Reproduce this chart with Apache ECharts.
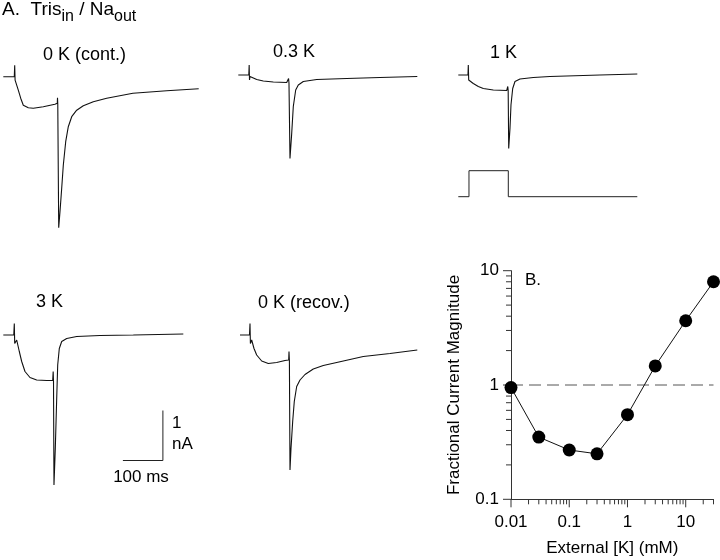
<!DOCTYPE html>
<html>
<head>
<meta charset="utf-8">
<script src="https://cdn.jsdelivr.net/npm/echarts@6/dist/echarts.min.js"></script>
<style>
  html, body { margin: 0; padding: 0; background: #fff; }
  #chart { width: 720px; height: 560px; }
</style>
</head>
<body>
<div id="chart"></div>
<script>
// current traces, [time (ms), current (nA)] relative to holding level
const trace0Kcont = [[0,0],[27.5,0],[28.5,0.23],[29.5,-0.07],[31,-0.07],[37.5,-0.27],[43.5,-0.43],[50,-0.57],[62.5,-0.62],[75,-0.63],[100,-0.6],[129,-0.55],[135,-0.53],[135.5,-0.42],[136.2,-0.55],[138.5,-3.02],[141.7,-2.7],[146,-2.23],[150,-1.77],[156,-1.3],[162.5,-1.0],[171,-0.8],[183.5,-0.67],[200,-0.58],[225,-0.5],[258.5,-0.43],[324,-0.33],[408.5,-0.28],[488.5,-0.24]];
const trace03K = [[0,0],[26.2,0],[27.2,0.2],[28,-0.1],[29.2,-0.03],[33.5,-0.05],[46,-0.09],[62.5,-0.12],[87.5,-0.14],[121,-0.15],[125,-0.16],[125.7,-0.07],[126.7,-0.16],[129.2,-1.67],[133.5,-1.17],[137.5,-0.63],[143.5,-0.3],[150,-0.2],[162.5,-0.13],[196,-0.09],[271,-0.07],[354,-0.05],[447.5,-0.03]];
const trace1K = [[0,0],[24.2,0],[25,0.2],[26,-0.1],[29.2,-0.07],[37.5,-0.17],[50,-0.23],[62.5,-0.27],[87.5,-0.3],[121,-0.31],[123,-0.31],[123.7,-0.23],[124.7,-0.31],[126,-1.47],[129.2,-1.07],[131.7,-0.6],[136,-0.27],[141.7,-0.13],[154.2,-0.08],[187.5,-0.05],[229,-0.03],[354,0],[447.5,0.02]];
const trace3K = [[0,0],[26.2,0],[27.5,0.23],[28.5,-0.17],[33.5,-0.1],[40,-0.33],[46,-0.53],[54.2,-0.73],[66.7,-0.85],[83.5,-0.9],[108.5,-0.91],[123.5,-0.91],[124.7,-0.73],[125.5,-0.92],[126.7,-3.0],[130,-2.27],[133.5,-1.27],[136,-0.6],[140,-0.27],[146,-0.13],[158.5,-0.07],[183.5,-0.03],[241.7,-0.01],[325,0],[450,0.02]];
const trace0Krecov = [[0,0],[23.7,0],[25,0.23],[26,-0.17],[29.2,-0.1],[35,-0.27],[41.7,-0.4],[54.2,-0.52],[70.7,-0.57],[91.7,-0.55],[112.5,-0.51],[121.7,-0.5],[122.5,-0.33],[123.5,-0.51],[125,-2.7],[127.5,-2.27],[131.7,-1.73],[135.7,-1.33],[141.7,-1.03],[150,-0.9],[162.5,-0.79],[183.2,-0.68],[208.2,-0.61],[241.7,-0.55],[308.2,-0.43],[375,-0.37],[443.2,-0.3]];
// voltage protocol (relative level) under the 1 K trace
const pulseT = [0, 26.7, 26.7, 125, 125, 447.5];
const pulseV = [0, 0, 1, 1, 0, 0];
// scale bar: 100 ms x 1 nA
const scaleBarT = [299, 399, 399];
const scaleBarI = [-2.51, -2.51, -1.51];

// panel B
const extK = [0.01, 0.03, 0.1, 0.3, 1, 3, 10, 30];
const fracCurrent = [0.95, 0.35, 0.27, 0.25, 0.55, 1.47, 3.65, 8.0];
const errK = [0.1];
const errLow = [0.245];
const errHigh = [0.295];
const refK = [0.01, 30];
const refFrac = [1, 1];
const xMajor = [0.01, 0.1, 1, 10];
const xMinor = [0.02,0.03,0.04,0.05,0.06,0.07,0.08,0.09,0.2,0.3,0.4,0.5,0.6,0.7,0.8,0.9,2,3,4,5,6,7,8,9,20,30];
const yMajor = [0.1, 1, 10];
const yMinor = [0.2,0.3,0.4,0.5,0.6,0.7,0.8,0.9,2,3,4,5,6,7,8,9];

const FONT = "'Liberation Sans', Arial, sans-serif";
const MS_PER_PX = 2.5;
const PX_PER_NA = 50;
const Y_TOP = 0.4, Y_BOT = -3.2;

const chart = echarts.init(document.getElementById('chart'));

// [left px, baseline px]
const panels = [
  { data: trace0Kcont, left: 3.3, base: 76.7 },
  { data: trace03K, left: 238.3, base: 75 },
  { data: trace1K, left: 458.3, base: 75 },
  { data: trace3K, left: 3.3, base: 335 },
  { data: trace0Krecov, left: 240, base: 335 },
];

const grids = [], xAxes = [], yAxes = [], series = [];
panels.forEach((p, i) => {
  grids.push({ left: p.left, top: p.base - Y_TOP * PX_PER_NA, width: 200,
    height: (Y_TOP - Y_BOT) * PX_PER_NA, outerBoundsMode: 'none' });
  xAxes.push({ type: 'value', gridIndex: i, min: 0, max: 200 * MS_PER_PX, show: false });
  yAxes.push({ type: 'value', gridIndex: i, min: Y_BOT, max: Y_TOP, show: false });
  series.push({ type: 'line', xAxisIndex: i, yAxisIndex: i, data: p.data,
    showSymbol: false, lineStyle: { color: '#111', width: 1.1 }, clip: false });
});

// pulse protocol grid
grids.push({ left: 458.3, top: 170.7, width: 200, height: 26, outerBoundsMode: 'none' });
xAxes.push({ type: 'value', gridIndex: 5, min: 0, max: 200 * MS_PER_PX, show: false });
yAxes.push({ type: 'value', gridIndex: 5, min: 0, max: 1, show: false });
series.push({ type: 'line', xAxisIndex: 5, yAxisIndex: 5,
  data: pulseT.map((t, i) => [t, pulseV[i]]), showSymbol: false,
  lineStyle: { color: '#222', width: 1 }, clip: false });

// scale bar in the 3 K panel
series.push({ type: 'line', xAxisIndex: 3, yAxisIndex: 3,
  data: scaleBarT.map((t, i) => [t, scaleBarI[i]]), showSymbol: false,
  lineStyle: { color: '#222', width: 1 }, clip: false });

// panel B grid (index 6)
grids.push({ left: 511, top: 270.7, width: 202.5, height: 228.6, outerBoundsMode: 'none' });
xAxes.push({
  type: 'log', gridIndex: 6, logBase: 10, min: 0.01, max: 30,
  name: 'External [K] (mM)', nameLocation: 'middle', nameGap: 41,
  nameTextStyle: { fontSize: 17, color: '#000', fontFamily: FONT },
  axisLine: { show: true, lineStyle: { color: '#333', width: 1 } },
  axisTick: { show: false }, splitLine: { show: false }, minorTick: { show: false },
  axisLabel: { color: '#000', fontSize: 17, fontFamily: FONT, margin: 15, showMaxLabel: false,
    formatter: v => String(+v.toPrecision(2)) },
});
yAxes.push({
  type: 'log', gridIndex: 6, logBase: 10, min: 0.1, max: 10,
  name: 'Fractional Current Magnitude', nameLocation: 'middle', nameGap: 48,
  nameTextStyle: { fontSize: 17, color: '#000', fontFamily: FONT },
  axisLine: { show: true, lineStyle: { color: '#333', width: 1 } },
  axisTick: { show: false }, splitLine: { show: false }, minorTick: { show: false },
  axisLabel: { color: '#000', fontSize: 17, fontFamily: FONT, margin: 12,
    formatter: v => String(+v.toPrecision(2)) },
});

function tickSeries(values, dir, len) {
  return {
    type: 'custom', xAxisIndex: 6, yAxisIndex: 6, clip: false, silent: true,
    data: values.map(v => dir === 'x' ? [v, 0.1] : [0.01, v]),
    renderItem: (params, api) => {
      const p = api.coord([api.value(0), api.value(1)]);
      const shape = dir === 'x'
        ? { x1: p[0], y1: p[1], x2: p[0], y2: p[1] + len }
        : { x1: p[0] - len, y1: p[1], x2: p[0], y2: p[1] };
      return { type: 'line', shape: shape, style: { stroke: '#333', lineWidth: 1 } };
    },
  };
}
series.push(tickSeries(xMajor, 'x', 8), tickSeries(xMinor, 'x', 5),
  tickSeries(yMajor, 'y', 8), tickSeries(yMinor, 'y', 5));

series.push({ type: 'line', xAxisIndex: 6, yAxisIndex: 6,
  data: refK.map((k, i) => [k, refFrac[i]]), showSymbol: false,
  lineStyle: { color: '#555', width: 1, type: [12, 6] } });

series.push({
  type: 'custom', xAxisIndex: 6, yAxisIndex: 6,
  data: errK.map((k, i) => [k, errLow[i], errHigh[i]]),
  renderItem: (params, api) => {
    const lo = api.coord([api.value(0), api.value(1)]);
    const hi = api.coord([api.value(0), api.value(2)]);
    const st = { stroke: '#888', lineWidth: 1 };
    return { type: 'group', children: [
      { type: 'line', shape: { x1: lo[0], y1: lo[1], x2: hi[0], y2: hi[1] }, style: st },
      { type: 'line', shape: { x1: lo[0] - 4, y1: lo[1], x2: lo[0] + 4, y2: lo[1] }, style: st },
      { type: 'line', shape: { x1: hi[0] - 4, y1: hi[1], x2: hi[0] + 4, y2: hi[1] }, style: st },
    ] };
  },
});

series.push({ type: 'line', xAxisIndex: 6, yAxisIndex: 6,
  data: extK.map((k, i) => [k, fracCurrent[i]]),
  symbol: 'circle', symbolSize: 13, showSymbol: true,
  itemStyle: { color: '#000' }, lineStyle: { color: '#111', width: 1 } });

function label(text, x, y, size, align) {
  return { type: 'text', x: x, y: y, silent: true,
    style: { text: text, font: (size || 18) + 'px ' + FONT, fill: '#000',
      align: align || 'left', textAlign: align || 'left',
      verticalAlign: 'middle', textVerticalAlign: 'middle' } };
}

chart.setOption({
  animation: false,
  backgroundColor: '#fff',
  textStyle: { fontFamily: FONT },
  grid: grids,
  xAxis: xAxes,
  yAxis: yAxes,
  series: series,
  graphic: [
    { type: 'text', x: 2, y: 0, silent: true,
      style: { text: '{a|A.  Tris}{s|in}{a| / Na}{s|out}', fill: '#000',
        rich: {
          a: { fontSize: 19, fontFamily: FONT, lineHeight: 19, verticalAlign: 'top', fill: '#000' },
          s: { fontSize: 16, fontFamily: FONT, lineHeight: 25, verticalAlign: 'bottom', fill: '#000' },
        } } },
    label('0 K (cont.)', 43, 55),
    label('0.3 K', 273, 52),
    label('1 K', 490, 53.5),
    label('3 K', 36, 302.5),
    label('0 K (recov.)', 258, 303),
    label('1', 172, 423.5, 17),
    label('nA', 172, 444, 17),
    label('100 ms', 141, 477, 17, 'center'),
    label('B.', 525, 280, 17),
  ],
});
</script>
</body>
</html>
